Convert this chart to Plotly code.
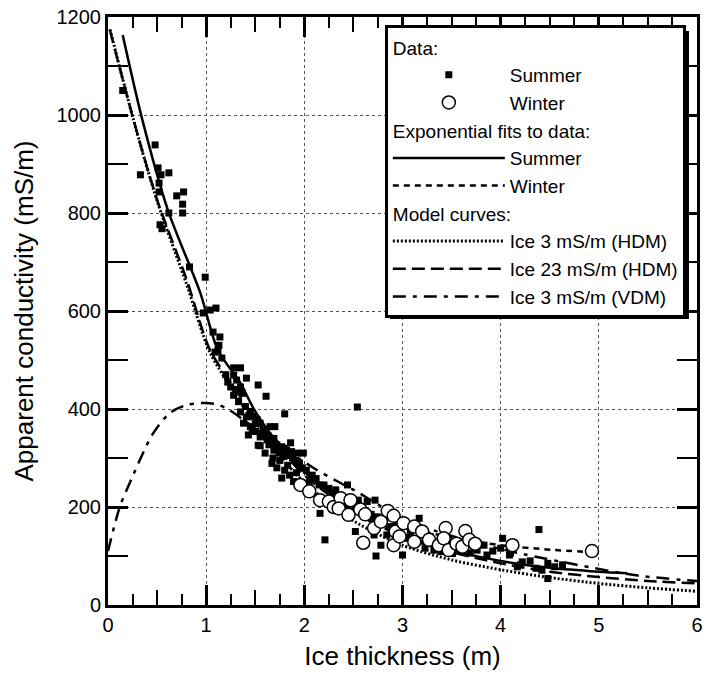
import plotly.graph_objects as go

# ---------------- data ----------------
summer_h = [0.15, 0.33, 0.48, 0.51, 0.54, 0.62, 0.52, 0.52, 0.70, 0.77, 0.76, 0.76, 0.62, 0.53, 0.55,
            0.83, 0.99, 1.04, 1.10, 0.97, 1.07, 1.14, 1.09, 1.12, 1.16, 1.13,
            1.20, 1.22, 1.28, 1.35, 1.28, 1.31, 1.41, 1.25, 1.35, 1.53, 1.28, 1.37, 1.30, 1.33, 1.40,
            1.35, 1.41, 1.45, 1.48, 1.38, 1.45, 1.52, 1.50, 1.43, 1.47, 1.50,
            1.55, 1.58, 1.61, 1.65, 1.70, 1.55, 1.62, 1.69, 1.64, 1.72, 1.77, 1.86, 1.55, 1.82, 1.87,
            1.93, 1.99, 1.69, 1.74, 1.79, 1.80, 1.57, 1.60, 1.63, 1.66, 1.70, 1.73, 1.76, 1.80, 1.84,
            1.88, 1.90, 1.95, 1.67, 1.77, 1.89, 1.53, 1.60, 1.68, 1.75, 1.83, 1.72, 1.80, 1.92, 1.98, 1.85,
            2.02, 2.08, 2.05, 2.12, 2.15, 2.20, 2.16, 2.21, 2.25, 2.30, 2.32, 2.36, 2.44, 2.40, 2.45,
            2.50, 2.52, 2.55, 2.54, 2.58, 2.62, 2.64, 2.68,
            2.72, 2.71, 2.78, 2.74, 2.81, 2.73, 2.84, 2.88, 2.95, 3.00, 3.05, 3.08, 3.17, 3.18, 3.23,
            3.32, 3.28, 3.39, 3.45, 3.51, 3.55,
            3.59, 3.69, 3.76, 3.83, 3.86, 3.92, 4.02, 4.00, 4.09, 4.10, 4.17, 4.22, 4.20, 4.30, 4.36,
            4.39, 4.42, 4.48, 4.55, 4.63, 4.48]
summer_v = [1050, 878, 939, 892, 878, 882, 861, 843, 835, 843, 818, 800, 800, 776, 768,
            690, 669, 602, 606, 596, 557, 547, 516, 520, 504, 530,
            470, 455, 484, 484, 469, 459, 463, 445, 445, 449, 428, 432, 440, 415, 405,
            394, 384, 395, 385, 371, 364, 378, 370, 347, 358, 354,
            371, 357, 426, 364, 364, 343, 337, 340, 327, 327, 323, 331, 325, 316, 313,
            310, 310, 316, 310, 303, 390, 345, 350, 345, 335, 330, 320, 315, 320, 305,
            300, 295, 290, 289, 259, 252, 326, 310, 300, 295, 285, 280, 275, 270, 280, 265,
            275, 265, 250, 258, 245, 245, 187, 133, 238, 228, 235, 222, 245, 212, 205,
            200, 150, 214, 404, 198, 190, 211, 185,
            214, 143, 122, 180, 173, 100, 143, 160, 163, 102, 136, 150, 177, 143, 116,
            112, 140, 109, 128, 105, 118,
            122, 106, 112, 122, 102, 110, 136, 116, 102, 106, 78, 88, 82, 90, 75,
            154, 71, 54, 78, 82, 85]

winter_h = [1.96, 2.05, 2.16, 2.25, 2.30, 2.37, 2.35, 2.45, 2.47, 2.57, 2.62, 2.60, 2.71, 2.78,
            2.85, 2.91, 2.93, 2.91, 3.01, 2.97, 3.12, 3.12, 3.20, 3.27, 3.37, 3.44, 3.42, 3.47,
            3.55, 3.61, 3.64, 3.68, 3.74, 4.12, 4.93]
winter_v = [245, 232, 214, 211, 200, 218, 197, 184, 214, 195, 185, 127, 157, 170,
            192, 182, 150, 122, 167, 140, 160, 129, 150, 133, 122, 157, 136, 112,
            125, 119, 151, 133, 125, 122, 110]

# exponential fits
fit_summer_h = [0.15, 0.35, 0.61, 0.94, 1.12, 1.35, 1.48, 1.65, 2.0, 2.5, 3.0, 3.5, 4.0, 4.5, 5.0, 5.29]
fit_summer_v = [1163, 990, 806, 637, 520, 453, 402, 351, 272, 196, 145, 112, 90, 76, 68, 65]
fit_winter_h = [1.96, 2.5, 3.0, 3.5, 4.0, 4.5, 4.92]
fit_winter_v = [238, 192, 160, 138, 122, 113, 108]

# model curves
hdm3_h = [0.02, 0.26, 0.5, 0.8, 1.04, 1.3, 1.5, 1.75, 2.0, 2.5, 3.0, 3.5, 4.0, 4.5, 5.0, 5.5, 6.0]
hdm3_v = [1175, 990, 825, 655, 515, 430, 368, 305, 250, 172, 122, 92, 72, 56, 44, 35, 28]
hdm23_h = [0.02, 0.26, 0.5, 0.8, 1.04, 1.3, 1.5, 1.75, 2.0, 2.5, 3.0, 3.5, 4.0, 4.5, 5.0, 5.5, 6.0]
hdm23_v = [1173, 990, 827, 665, 520, 440, 380, 320, 265, 190, 140, 108, 85, 68, 57, 49, 44]
vdm_h = [0.0, 0.12, 0.25, 0.45, 0.63, 0.8, 0.95, 1.1, 1.22, 1.38, 1.6, 1.85, 2.09, 2.34, 2.52,
         2.9, 3.31, 3.75, 4.25, 4.75, 5.4, 6.0]
vdm_v = [110, 200, 262, 347, 392, 408, 412, 410, 400, 378, 345, 312, 280, 252, 233,
         188, 153, 127, 103, 83, 60, 49]

x_ticks = [0, 1, 2, 3, 4, 5, 6]
y_ticks = [0, 200, 400, 600, 800, 1000, 1200]

FONT = "Liberation Sans, Arial, Helvetica, sans-serif"

fig = go.Figure()

def curve(x, y, name, dash, width, group, gtitle, rank):
    fig.add_trace(go.Scatter(
        x=x, y=y, mode="lines", name=name,
        line=dict(color="black", width=width, dash=dash, shape="spline", smoothing=0.8),
        legendgroup=group, legendgrouptitle_text=gtitle, legendrank=rank,
    ))

curve(fit_summer_h, fit_summer_v, "Summer", "solid", 2.5, "fits", "Exponential fits to data:", 3)
curve(fit_winter_h, fit_winter_v, "Winter", "6px,5px", 2.5, "fits", "Exponential fits to data:", 4)
curve(hdm3_h, hdm3_v, "Ice 3 mS/m (HDM)", "2px,2px", 3, "models", "Model curves:", 5)
curve(hdm23_h, hdm23_v, "Ice 23 mS/m (HDM)", "13px,6px", 2.5, "models", "Model curves:", 6)
curve(vdm_h, vdm_v, "Ice 3 mS/m (VDM)", "13px,7px,4px,7px", 2.5, "models", "Model curves:", 7)

fig.add_trace(go.Scatter(
    x=summer_h, y=summer_v, mode="markers", name="Summer",
    marker=dict(symbol="square", size=7, color="black"),
    legendgroup="data", legendgrouptitle_text="Data:", legendrank=1,
))
fig.add_trace(go.Scatter(
    x=winter_h, y=winter_v, mode="markers", name="Winter",
    marker=dict(symbol="circle", size=13, color="white", line=dict(color="black", width=1.5)),
    legendgroup="data", legendgrouptitle_text="Data:", legendrank=2,
))
# empty trace that carries the half-unit tick axis
fig.add_trace(go.Scatter(x=[None], y=[None], xaxis="x2", showlegend=False, hoverinfo="skip"))

axis_common = dict(
    showline=True, linewidth=3, linecolor="black", mirror="allticks",
    ticks="inside", ticklen=20, tickwidth=2.5, tickcolor="black",
    showgrid=True, gridcolor="#555555", gridwidth=1, griddash="dot",
    zeroline=False, automargin=False,
    tickfont=dict(family=FONT, size=20, color="black"),
)

fig.update_layout(
    xaxis=dict(
        range=[x_ticks[0], x_ticks[-1]], tick0=x_ticks[0], dtick=x_ticks[1] - x_ticks[0],
        title=dict(text="Ice thickness (m)", standoff=12, font=dict(family=FONT, size=26, color="black")),
        minor=dict(dtick=0.25, ticks="inside", ticklen=11, tickwidth=2, tickcolor="black", showgrid=False),
        **axis_common,
    ),
    xaxis2=dict(
        overlaying="x", matches="x", anchor="y", side="bottom", automargin=False,
        range=[x_ticks[0], x_ticks[-1]], tick0=0, dtick=0.5,
        ticks="inside", ticklen=15, tickwidth=2, tickcolor="black",
        showticklabels=False, showgrid=False, zeroline=False,
        showline=True, linewidth=3, linecolor="black", mirror="ticks",
    ),
    yaxis=dict(
        range=[y_ticks[0], y_ticks[-1]], tick0=y_ticks[0], dtick=y_ticks[1] - y_ticks[0],
        title=dict(text="Apparent conductivity (mS/m)", standoff=16,
                   font=dict(family=FONT, size=26, color="black")),
        minor=dict(dtick=100, ticks="inside", ticklen=11, tickwidth=2, tickcolor="black", showgrid=False),
        **axis_common,
    ),
    width=707, height=677,
    margin=dict(l=108, r=10, t=17, b=72, autoexpand=False),
    paper_bgcolor="white", plot_bgcolor="white",
    font=dict(family=FONT, size=20, color="black"),
    showlegend=True,
    legend=dict(
        x=0.470, y=0.986, xanchor="left", yanchor="top",
        bgcolor="white", bordercolor="black", borderwidth=3,
        font=dict(family=FONT, size=19, color="black"),
        grouptitlefont=dict(family=FONT, size=19, color="black"),
        traceorder="grouped", tracegroupgap=0, itemwidth=112,
    ),
    # drop shadow behind the legend box
    shapes=[dict(type="rect", xref="paper", yref="paper", layer="above",
                 x0=0.479, x1=0.9864, y0=0.4864, y1=0.976,
                 fillcolor="black", line=dict(width=0))],
)

fig.write_html("out.html")
